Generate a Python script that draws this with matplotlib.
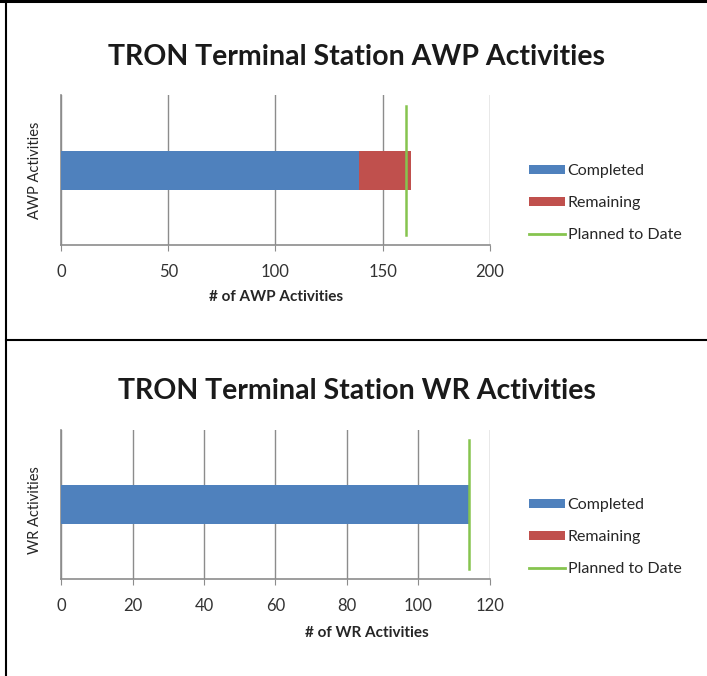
import matplotlib
matplotlib.use("Agg")
import matplotlib.pyplot as plt
from matplotlib.patches import Patch
from matplotlib.lines import Line2D

plt.rcParams['font.family'] = ['Lato', 'DejaVu Sans']

# ---- data ----
charts = ["AWP", "WR"]
titles = ["TRON Terminal Station AWP Activities", "TRON Terminal Station WR Activities"]
ylabels = ["AWP Activities", "WR Activities"]
xlabels = ["# of AWP Activities", "# of WR Activities"]
completed = [139, 114]
remaining = [24, 0]
planned = [161, 114]
xmax = [200, 120]
xstep = [50, 20]
legend_labels = ["Completed", "Remaining", "Planned to Date"]

BLUE = "#4F81BD"
RED = "#C0504D"
GREEN = "#86C44F"
GRID = "#8C8C8C"

W, H = 707, 676
fig = plt.figure(figsize=(W / 100, H / 100), dpi=100)

def fx(px):
    return px / W

def fy(py):
    return 1 - py / H

# axes positions in pixels: left, right, top, bottom
ax_px = [(61, 490, 95, 245), (61, 490, 430, 579)]
title_y = [57, 391]
xlabel_pos = [(276, 297), (367, 633)]
ylabel_pos = [(35, 170), (35, 510)]
legend_top = [150, 484]

for i in range(2):
    l, r, t, b = ax_px[i]
    ax = fig.add_axes([fx(l), fy(b), fx(r - l), (b - t) / H])
    ax.barh([0], [completed[i]], height=0.26, color=BLUE, zorder=3)
    ax.barh([0], [remaining[i]], left=[completed[i]], height=0.26, color=RED, zorder=3)
    ax.plot([planned[i], planned[i]], [-0.435, 0.43], color=GREEN, lw=1.8, zorder=4)
    ax.set_xlim(0, xmax[i])
    ax.set_ylim(-0.5, 0.5)
    ax.set_xticks(range(0, xmax[i] + 1, xstep[i]))
    ax.set_yticks([])
    ax.grid(axis='x', color=GRID, lw=1.0, zorder=0)
    for s in ['top', 'right']:
        ax.spines[s].set_visible(False)
    for s in ['left', 'bottom']:
        ax.spines[s].set_color(GRID)
        ax.spines[s].set_linewidth(1.2)
    ax.tick_params(axis='x', length=4, color=GRID, labelsize=12, labelcolor='#333333', pad=10)

    fig.text(fx(357), fy(title_y[i]), titles[i], ha='center', va='center',
             fontsize=20.5, fontweight='bold', color='#1a1a1a')
    fig.text(fx(xlabel_pos[i][0]), fy(xlabel_pos[i][1]), xlabels[i], ha='center', va='center',
             fontsize=11, fontweight='bold', color='#262626')
    fig.text(fx(ylabel_pos[i][0]), fy(ylabel_pos[i][1]), ylabels[i], ha='center', va='center',
             rotation=90, fontsize=10.5, color='#262626')

    handles = [Patch(facecolor=BLUE, edgecolor='none'),
               Patch(facecolor=RED, edgecolor='none'),
               Line2D([0], [0], color=GREEN, lw=2)]
    fig.legend(handles, legend_labels, loc='upper left',
               bbox_to_anchor=(fx(515), fy(legend_top[i])), frameon=False,
               fontsize=11.5, handlelength=2.2, handleheight=0.5, handletextpad=0.2,
               labelspacing=1.12, labelcolor='#262626')

# table borders
lw = 1.5
fig.add_artist(Line2D([0, 1], [fy(1), fy(1)], color='black', lw=2.2))
fig.add_artist(Line2D([fx(6), fx(6)], [0, 1], color='black', lw=lw))
fig.add_artist(Line2D([fx(6), 1], [fy(340), fy(340)], color='black', lw=lw))

fig.savefig("out.png", dpi=100)
